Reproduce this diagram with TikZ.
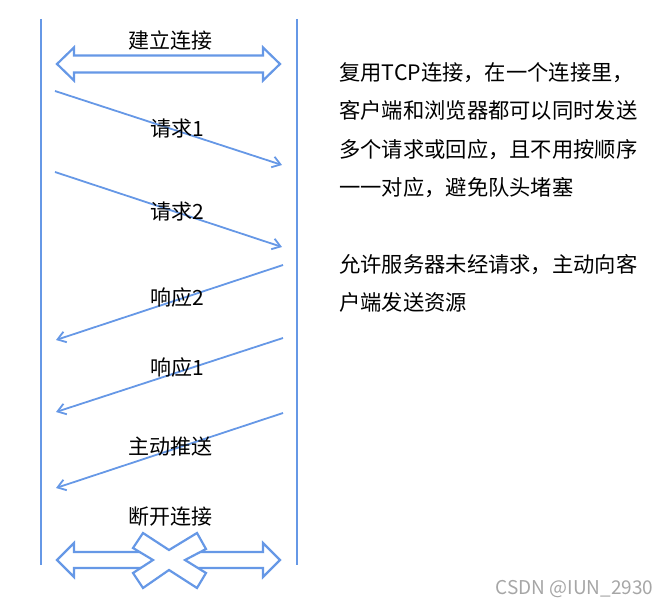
\documentclass[tikz,border=0pt]{standalone}
\usepackage{fontspec}
\setmainfont{Noto Sans CJK SC}
\usepackage{tikz}
\usetikzlibrary{arrows.meta}
\usepackage{xcolor}
\definecolor{linkblue}{RGB}{102,152,230}

\begin{document}
\begin{tikzpicture}[x=1pt,y=1pt,yscale=-1,xscale=1,
    lifeline/.style={draw=linkblue,line width=2.5pt},
    msg/.style={draw=linkblue,line width=1.8pt,-{Straight Barb[length=8pt,width=11pt,line width=1.8pt]}},
    hollow/.style={draw=linkblue,line width=2.2pt,line join=miter,fill=white},
    lbl/.style={inner sep=0.75pt,font=\fontsize{21}{24}\selectfont},
    note/.style={anchor=base west,inner sep=0pt,align=left,font=\fontsize{21.3}{38.5}\selectfont}]
\useasboundingbox (0,0) rectangle (669,609);
                    %Straight Lines (client / server)
                    \draw [lifeline]   (41,19) -- (41,565) ;
                    \draw [lifeline]   (297,19) -- (297,565) ;
                    %Shape: Double Arrow (open connection)
                    \draw [hollow]   (57,64) -- (74,47.5) -- (74,55.5) -- (263,55.5) -- (263,47.5) -- (280,64) -- (263,80.5) -- (263,72.5) -- (74,72.5) -- (74,80.5) -- cycle ;
                    %Shape: Double Arrow (close connection)
                    \draw [hollow]   (57,560) -- (74,543) -- (74,552) -- (263,552) -- (263,543) -- (280,560) -- (263,577) -- (263,568) -- (74,568) -- (74,577) -- cycle ;
                    %Shape: Cross
                    \draw [hollow]   (143,533) -- (169,550) -- (197,533) -- (206,549) -- (185,560) -- (206,573) -- (197,588) -- (169,570) -- (143,588) -- (133,573) -- (153,560) -- (133,548) -- cycle ;

                    % Coordinates on the lifelines
                    \coordinate (c1) at (55,91) ;   \coordinate (s1) at (282,165) ;
                    \coordinate (c2) at (55,172) ;  \coordinate (s2) at (282,247) ;
                    \coordinate (s3) at (283,265) ; \coordinate (c3) at (56,340) ;
                    \coordinate (s4) at (283,338) ; \coordinate (c4) at (56,412) ;
                    \coordinate (s5) at (283,413) ; \coordinate (c5) at (56,488) ;

                    %Straight Lines
                    \draw [msg]   (c1) -- (s1) ;
                    \draw [msg]   (c2) -- (s2) ;
                    \draw [msg]   (s3) -- (c3) ;
                    \draw [msg]   (s4) -- (c4) ;
                    \draw [msg]   (s5) -- (c5) ;

                    % Text Node
                    \draw (170,40) node [lbl] (open) {建立连接};
                    % Text Node
                    \draw (177,129) node [lbl] (req1) {请求1};
                    % Text Node
                    \draw (177,212) node [lbl] (req2) {请求2};
                    % Text Node
                    \draw (177,298) node [lbl] (resp2) {响应2};
                    % Text Node
                    \draw (177,368) node [lbl] (resp1) {响应1};
                    % Text Node
                    \draw (170,447) node [lbl] (push) {主动推送};
                    % Text Node
                    \draw (170,517) node [lbl] (close) {断开连接};

                    % Text Node
                    \draw (339,196) node [note] (mux) {复用TCP连接，在一个连接里，\\客户端和浏览器都可以同时发送\\多个请求或回应，且不用按顺序\\一一对应，避免队头堵塞};
                    % Text Node
                    \draw (339,311) node [note] (srvpush) {允许服务器未经请求，主动向客\\户端发送资源};
                    % Text Node
                    \draw (574.5,589) node [inner sep=0pt,font=\fontsize{19}{22}\selectfont,color=black!35] (mark) {CSDN @IUN\_2930};
\end{tikzpicture}
\end{document}
